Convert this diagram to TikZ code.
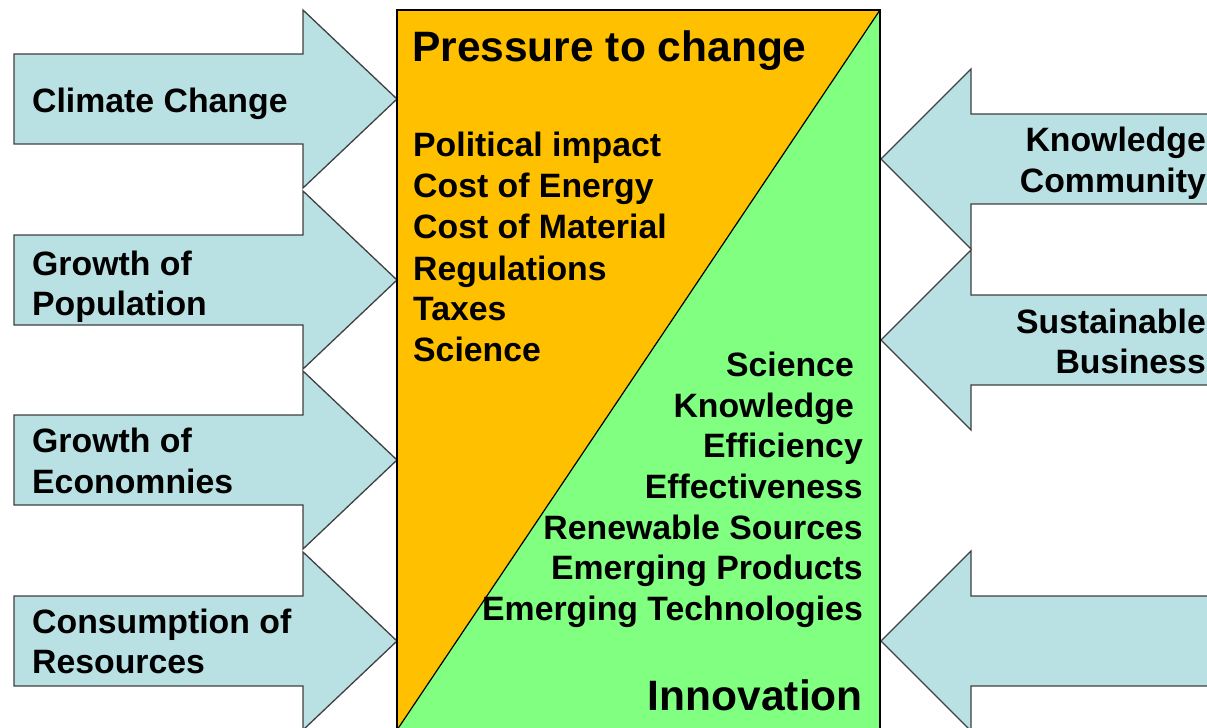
\documentclass[tikz,border=0pt]{standalone}
\usepackage{fontspec}
\setmainfont{Liberation Sans}
\definecolor{arrowfill}{HTML}{B9E0E3}
\definecolor{arrowline}{HTML}{404040}
\definecolor{pressure}{HTML}{FFC000}
\definecolor{innov}{HTML}{80FF80}
\tikzset{
  bigarrow/.style={fill=arrowfill, draw=arrowline, line width=1.3bp, line join=miter},
  lbl/.style={inner sep=0pt, font=\fontsize{33.8bp}{40bp}\selectfont\bfseries},
  ttl/.style={inner sep=0pt, font=\fontsize{42.5bp}{50bp}\selectfont\bfseries},
}
\begin{document}
\begin{tikzpicture}[x=1bp,y=-1bp]
\useasboundingbox (0,0) rectangle (1207,728);
\clip (0,0) rectangle (1207,728);
% left arrows (tip y values)
\foreach \t in {99,280,460,641}{
  \draw[bigarrow] (14,\t-45) -- (303,\t-45) -- (303,\t-89) -- (397,\t) -- (303,\t+89) -- (303,\t+45) -- (14,\t+45) -- cycle;
}
% right arrows
\foreach \t in {159,340,641}{
  \draw[bigarrow] (1220,\t-45) -- (971,\t-45) -- (971,\t-90) -- (881,\t) -- (971,\t+90) -- (971,\t+45) -- (1220,\t+45) -- cycle;
}
% main box
\fill[pressure] (397,10) -- (880,10) -- (397,730) -- cycle;
\fill[innov] (880,10) -- (880,745) -- (397,745) -- (397,730) -- cycle;
\draw[line width=1.2bp] (880,10) -- (397,730);
\draw[line width=1.5bp] (397,745) -- (397,10) -- (880,10) -- (880,745);
% left labels
\node[lbl, anchor=base west] (cc) at (32,113) {Climate Change};
\node[lbl, anchor=base west] (gp1) at (32,275) {Growth of};
\node[lbl, anchor=base west] (gp2) at (32,315) {Population};
\node[lbl, anchor=base west] (ge1) at (32,452) {Growth of};
\node[lbl, anchor=base west] (ge2) at (32,493) {Economnies};
\node[lbl, anchor=base west] (cr1) at (32,633) {Consumption of};
\node[lbl, anchor=base west] (cr2) at (32,673) {Resources};
% right labels
\node[lbl, anchor=base east] (kc1) at (1206,152) {Knowledge};
\node[lbl, anchor=base east] (kc2) at (1206,193) {Community};
\node[lbl, anchor=base east] (sb1) at (1206,333) {Sustainable};
\node[lbl, anchor=base east] (sb2) at (1206,373) {Business};
% titles
\node[ttl, anchor=base west] (ptc) at (412,62) {Pressure to change};
\node[ttl, anchor=base east] (inn) at (863,710) {Innovation};
% pressure list
\node[lbl, anchor=base west] (p1) at (413,157) {Political impact};
\node[lbl, anchor=base west] (p2) at (413,198) {Cost of Energy};
\node[lbl, anchor=base west] (p3) at (413,239) {Cost of Material};
\node[lbl, anchor=base west] (p4) at (413,280) {Regulations};
\node[lbl, anchor=base west] (p5) at (413,320) {Taxes};
\node[lbl, anchor=base west] (p6) at (413,361) {Science};
% innovation list
\node[lbl, anchor=base east] (i1) at (863,376) {Science\kern9bp};
\node[lbl, anchor=base east] (i2) at (863,417) {Knowledge\kern9bp};
\node[lbl, anchor=base east] (i3) at (863,457) {Efficiency};
\node[lbl, anchor=base east] (i4) at (863,498) {Effectiveness};
\node[lbl, anchor=base east] (i5) at (863,539) {Renewable Sources};
\node[lbl, anchor=base east] (i6) at (863,579) {Emerging Products};
\node[lbl, anchor=base east] (i7) at (863,620) {Emerging Technologies};
\end{tikzpicture}
\end{document}
